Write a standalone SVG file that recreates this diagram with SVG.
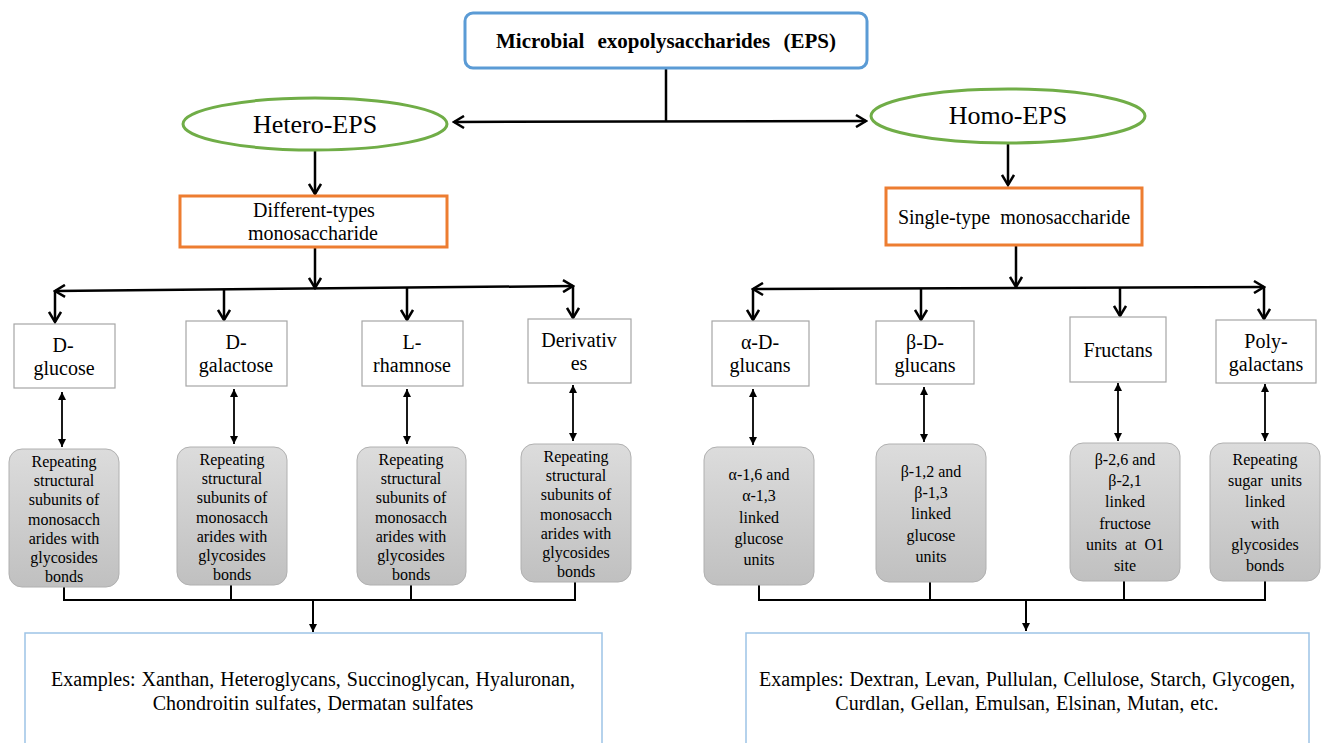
<svg xmlns="http://www.w3.org/2000/svg" width="1323" height="743" viewBox="0 0 1323 743">
<style>
text{font-family:"Liberation Serif","Times New Roman",serif;fill:#000;text-anchor:middle}
.title{font-size:21px;font-weight:bold;word-spacing:8px}
.ell{fill:#fff;stroke:#70ad47;stroke-width:3}
.eltxt{font-size:26px}
.org{fill:#fff;stroke:#ed7d31;stroke-width:3}
.otxt{font-size:20px}
.wbox{fill:#fff;stroke:#a6a6a6;stroke-width:1.2}
.wtxt{font-size:20px}
.gbox{fill:url(#gg);stroke:#b0b0b0;stroke-width:1}
.gtxt{font-size:16px}
.ex{fill:#fff;stroke:#9dc3e6;stroke-width:1.5}
.extxt{font-size:20px;word-spacing:1px}
.thick{stroke:#000;stroke-width:2.5;fill:none}
.thin{stroke:#000;stroke-width:1.8;fill:none}
.mid{stroke:#000;stroke-width:2;fill:none}
</style>
<defs>
<linearGradient id="gg" x1="0" y1="0" x2="0" y2="1">
<stop offset="0" stop-color="#dcdcdc"/>
<stop offset="1" stop-color="#c0c0c0"/>
</linearGradient>
<marker id="chev" viewBox="0 0 14 14" refX="12" refY="7" markerWidth="14" markerHeight="14" markerUnits="userSpaceOnUse" orient="auto-start-reverse">
<path d="M2,1 L12,7 L2,13" fill="none" stroke="#000" stroke-width="2.5"/>
</marker>
<marker id="tri" viewBox="0 0 10 10" refX="10" refY="5" markerWidth="9" markerHeight="8" markerUnits="userSpaceOnUse" orient="auto-start-reverse">
<path d="M0,0 L10,5 L0,10 z" fill="#000"/>
</marker>
</defs>
<rect width="1323" height="743" fill="#fff"/>

<g id="connectors">
<path class="thick" d="M666,68 L666,121"/>
<path class="thick" d="M454,122 L866,121" marker-start="url(#chev)" marker-end="url(#chev)"/>
<path class="thick" d="M315,150 L315,194" marker-end="url(#chev)"/>
<path class="thick" d="M1008,143 L1008,185" marker-end="url(#chev)"/>
<path class="thick" d="M315,247 L315,288" marker-end="url(#chev)"/>
<path class="thick" d="M1016,246 L1016,287" marker-end="url(#chev)"/>
<path class="thick" d="M55,291 L573,286" marker-start="url(#chev)" marker-end="url(#chev)"/>
<path class="thick" d="M55,291 L55,322" marker-end="url(#chev)"/>
<path class="thick" d="M224,290 L224,320" marker-end="url(#chev)"/>
<path class="thick" d="M407,288 L407,320" marker-end="url(#chev)"/>
<path class="thick" d="M573,286 L573,318" marker-end="url(#chev)"/>
<path class="thick" d="M753,289 L1264,287" marker-start="url(#chev)" marker-end="url(#chev)"/>
<path class="thick" d="M753,289 L753,320" marker-end="url(#chev)"/>
<path class="thick" d="M921,288 L921,320" marker-end="url(#chev)"/>
<path class="thick" d="M1120,287 L1120,316" marker-end="url(#chev)"/>
<path class="thick" d="M1264,287 L1264,319" marker-end="url(#chev)"/>
<path class="thin" d="M62,392 L62,447" marker-start="url(#tri)" marker-end="url(#tri)"/>
<path class="thin" d="M234,389 L234,444" marker-start="url(#tri)" marker-end="url(#tri)"/>
<path class="thin" d="M407,389 L407,444" marker-start="url(#tri)" marker-end="url(#tri)"/>
<path class="thin" d="M573,385 L573,441" marker-start="url(#tri)" marker-end="url(#tri)"/>
<path class="thin" d="M753,389 L753,445" marker-start="url(#tri)" marker-end="url(#tri)"/>
<path class="thin" d="M924,387 L924,442" marker-start="url(#tri)" marker-end="url(#tri)"/>
<path class="thin" d="M1118,383 L1118,441" marker-start="url(#tri)" marker-end="url(#tri)"/>
<path class="thin" d="M1265,384 L1265,441" marker-start="url(#tri)" marker-end="url(#tri)"/>
<path class="mid" d="M64,587 L64,600 L575,600 L575,582 M231,585 L231,600 M411,585 L411,600"/>
<path class="mid" d="M313,600 L313,632" marker-end="url(#tri)"/>
<path class="mid" d="M759,585 L759,600 L1265,600 L1265,581 M930,582 L930,600 M1124,581 L1124,600"/>
<path class="mid" d="M1026,600 L1026,631" marker-end="url(#tri)"/>
</g>

<g id="root">
<rect x="465" y="13" width="402" height="55" rx="8" fill="#fff" stroke="#5b9bd5" stroke-width="3"/>
<text class="title" x="666" y="48">Microbial exopolysaccharides (EPS)</text>
</g>

<g id="hetero">
<ellipse class="ell" cx="315" cy="124" rx="132" ry="26"/>
<text class="eltxt" x="315" y="133">Hetero-EPS</text>
</g>
<g id="homo">
<ellipse class="ell" cx="1008" cy="116" rx="137" ry="27"/>
<text class="eltxt" x="1008" y="124">Homo-EPS</text>
</g>

<g id="different">
<rect class="org" x="180" y="196" width="267" height="51"/>
<text class="otxt" x="314" y="217">Different-types</text>
<text class="otxt" x="313" y="240">monosaccharide</text>
</g>
<g id="single">
<rect class="org" x="886" y="188" width="256" height="57"/>
<text class="otxt" x="1014" y="224" style="word-spacing:5px">Single-type monosaccharide</text>
</g>

<g id="dglucose">
<rect class="wbox" x="14" y="324" width="101" height="64"/>
<text class="wtxt" x="63" y="352">D-</text>
<text class="wtxt" x="64" y="375">glucose</text>
</g>
<g id="dgalactose">
<rect class="wbox" x="186" y="321" width="101" height="65"/>
<text class="wtxt" x="236" y="349">D-</text>
<text class="wtxt" x="236" y="372">galactose</text>
</g>
<g id="lrhamnose">
<rect class="wbox" x="362" y="321" width="101" height="65"/>
<text class="wtxt" x="412" y="349">L-</text>
<text class="wtxt" x="412" y="372">rhamnose</text>
</g>
<g id="derivatives">
<rect class="wbox" x="528" y="319" width="103" height="64"/>
<text class="wtxt" x="579" y="347">Derivativ</text>
<text class="wtxt" x="579" y="370">es</text>
</g>

<g id="adglucans">
<rect class="wbox" x="712" y="321" width="97" height="65"/>
<text class="wtxt" x="760" y="349">α-D-</text>
<text class="wtxt" x="760" y="372">glucans</text>
</g>
<g id="bdglucans">
<rect class="wbox" x="876" y="321" width="98" height="63"/>
<text class="wtxt" x="925" y="349">β-D-</text>
<text class="wtxt" x="925" y="372">glucans</text>
</g>
<g id="fructans">
<rect class="wbox" x="1070" y="317" width="96" height="65"/>
<text class="wtxt" x="1118" y="357">Fructans</text>
</g>
<g id="polygalactans">
<rect class="wbox" x="1216" y="320" width="100" height="63"/>
<text class="wtxt" x="1266" y="348">Poly-</text>
<text class="wtxt" x="1266" y="371">galactans</text>
</g>

<g id="rep1">
<rect class="gbox" x="9" y="449" width="110" height="138" rx="13"/>
<text class="gtxt" x="64" y="467">Repeating</text>
<text class="gtxt" x="64" y="486">structural</text>
<text class="gtxt" x="64" y="505">subunits of</text>
<text class="gtxt" x="64" y="525">monosacch</text>
<text class="gtxt" x="64" y="544">arides with</text>
<text class="gtxt" x="64" y="563">glycosides</text>
<text class="gtxt" x="64" y="582">bonds</text>
</g>
<g id="rep2">
<rect class="gbox" x="177" y="447" width="110" height="138" rx="13"/>
<text class="gtxt" x="232" y="465">Repeating</text>
<text class="gtxt" x="232" y="484">structural</text>
<text class="gtxt" x="232" y="503">subunits of</text>
<text class="gtxt" x="232" y="523">monosacch</text>
<text class="gtxt" x="232" y="542">arides with</text>
<text class="gtxt" x="232" y="561">glycosides</text>
<text class="gtxt" x="232" y="580">bonds</text>
</g>
<g id="rep3">
<rect class="gbox" x="357" y="447" width="109" height="138" rx="13"/>
<text class="gtxt" x="411" y="465">Repeating</text>
<text class="gtxt" x="411" y="484">structural</text>
<text class="gtxt" x="411" y="503">subunits of</text>
<text class="gtxt" x="411" y="523">monosacch</text>
<text class="gtxt" x="411" y="542">arides with</text>
<text class="gtxt" x="411" y="561">glycosides</text>
<text class="gtxt" x="411" y="580">bonds</text>
</g>
<g id="rep4">
<rect class="gbox" x="521" y="444" width="110" height="138" rx="13"/>
<text class="gtxt" x="576" y="462">Repeating</text>
<text class="gtxt" x="576" y="481">structural</text>
<text class="gtxt" x="576" y="500">subunits of</text>
<text class="gtxt" x="576" y="520">monosacch</text>
<text class="gtxt" x="576" y="539">arides with</text>
<text class="gtxt" x="576" y="558">glycosides</text>
<text class="gtxt" x="576" y="577">bonds</text>
</g>

<g id="alpha">
<rect class="gbox" x="704" y="447" width="110" height="138" rx="13"/>
<text class="gtxt" x="759" y="480">α-1,6 and</text>
<text class="gtxt" x="759" y="501">α-1,3</text>
<text class="gtxt" x="759" y="523">linked</text>
<text class="gtxt" x="759" y="544">glucose</text>
<text class="gtxt" x="759" y="565">units</text>
</g>
<g id="beta">
<rect class="gbox" x="876" y="444" width="110" height="138" rx="13"/>
<text class="gtxt" x="931" y="477">β-1,2 and</text>
<text class="gtxt" x="931" y="498">β-1,3</text>
<text class="gtxt" x="931" y="519">linked</text>
<text class="gtxt" x="931" y="541">glucose</text>
<text class="gtxt" x="931" y="562">units</text>
</g>
<g id="fruct">
<rect class="gbox" x="1070" y="443" width="110" height="138" rx="13"/>
<text class="gtxt" x="1125" y="465">β-2,6 and</text>
<text class="gtxt" x="1125" y="486">β-2,1</text>
<text class="gtxt" x="1125" y="507">linked</text>
<text class="gtxt" x="1125" y="529">fructose</text>
<text class="gtxt" x="1125" y="550" style="word-spacing:4px">units at O1</text>
<text class="gtxt" x="1125" y="571">site</text>
</g>
<g id="sugar">
<rect class="gbox" x="1210" y="443" width="110" height="138" rx="13"/>
<text class="gtxt" x="1265" y="465">Repeating</text>
<text class="gtxt" x="1265" y="486" style="word-spacing:4px">sugar units</text>
<text class="gtxt" x="1265" y="507">linked</text>
<text class="gtxt" x="1265" y="529">with</text>
<text class="gtxt" x="1265" y="550">glycosides</text>
<text class="gtxt" x="1265" y="571">bonds</text>
</g>

<g id="examples-hetero">
<rect class="ex" x="25" y="633" width="577" height="130"/>
<text class="extxt" x="313" y="686">Examples: Xanthan, Heteroglycans, Succinoglycan, Hyaluronan,</text>
<text class="extxt" x="313" y="710">Chondroitin sulfates, Dermatan sulfates</text>
</g>
<g id="examples-homo">
<rect class="ex" x="746" y="633" width="563" height="130"/>
<text class="extxt" x="1027" y="686">Examples: Dextran, Levan, Pullulan, Cellulose, Starch, Glycogen,</text>
<text class="extxt" x="1027" y="710">Curdlan, Gellan, Emulsan, Elsinan, Mutan, etc.</text>
</g>
</svg>
